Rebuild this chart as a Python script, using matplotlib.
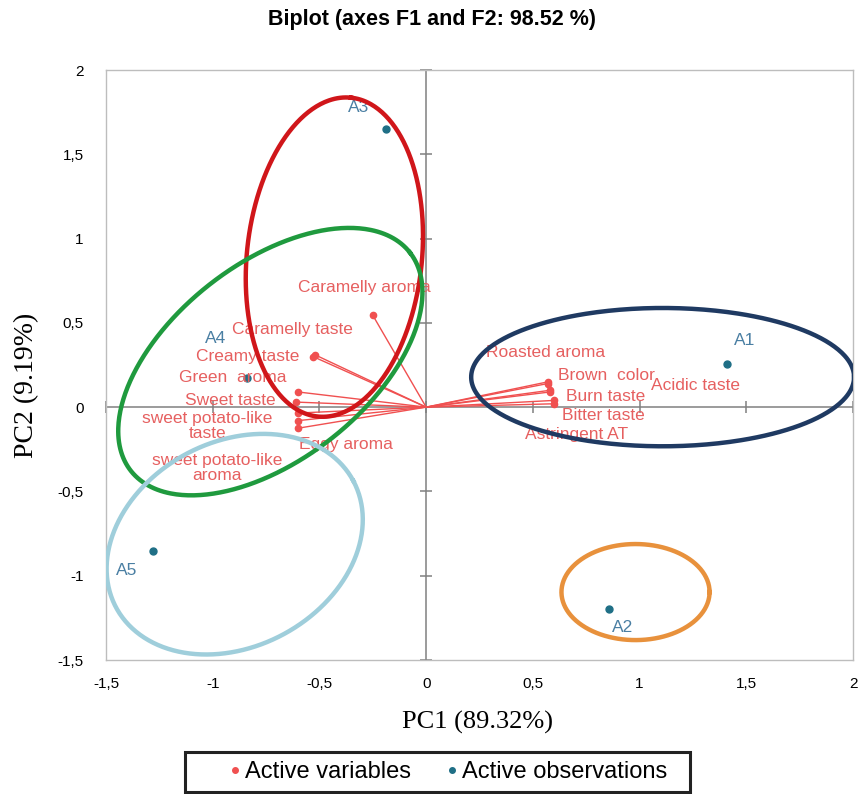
import matplotlib
matplotlib.use('Agg')
import matplotlib.pyplot as plt
from matplotlib.lines import Line2D
from matplotlib.patches import Rectangle
import numpy as np

# ---------------- data ----------------
var_names = ["Caramelly aroma", "Caramelly taste", "Creamy taste", "Green  aroma",
             "Sweet taste", "sweet potato-like\ntaste", "sweet potato-like\naroma",
             "Eggy aroma", "Roasted aroma", "Brown  color", "Acidic taste",
             "Burn taste", "Bitter taste", "Astringent AT"]
var_pc1 = [-0.25, -0.52, -0.53, -0.60, -0.61, -0.60, -0.60, -0.60,
           0.57, 0.57, 0.58, 0.58, 0.60, 0.60]
var_pc2 = [0.545, 0.31, 0.30, 0.09, 0.03, -0.035, -0.08, -0.125,
           0.15, 0.14, 0.10, 0.09, 0.04, 0.02]

obs_names = ["A1", "A2", "A3", "A4", "A5"]
obs_pc1 = [1.41, 0.855, -0.19, -0.84, -1.28]
obs_pc2 = [0.255, -1.20, 1.65, 0.17, -0.855]

x_ticks = [-1.5, -1, -0.5, 0, 0.5, 1, 1.5, 2]
y_ticks = [-1.5, -1, -0.5, 0, 0.5, 1, 1.5, 2]

# label placement (offset pixels, horizontal alignment)
var_label_pos = [(-8, 28, 'center'), (-23, 25, 'center'), (-14, 0, 'right'),
                 (-12, 14, 'right'), (-20, 2, 'right'), (-91, -13, 'center'),
                 (-81, -47, 'center'), (48, -16, 'center'), (-2, 29, 'center'),
                 (10, 8, 'left'), (101, 5, 'left'), (16, -5, 'left'),
                 (8, -15, 'left'), (22, -31, 'center')]
obs_label_pos = [(18, 24), (14, -18), (-27, 22), (-31, 40), (-26, -19)]

# group ellipses: centre (data), semi-axes (x units), angle (deg), colour
ellipses = [
    ((-0.43, 0.89), 0.751, 0.41, 84, '#d0161a'),
    ((-0.73, 0.27), 0.83, 0.46, 38, '#1f9a3e'),
    ((-0.897, -0.813), 0.63, 0.48, 28, '#9fcedb'),
    ((1.108, 0.178), 0.897, 0.324, 0, '#1f3a62'),
    ((0.981, -1.097), 0.347, 0.225, 0, '#e8913c'),
]

var_color = '#f05050'
var_text = '#e66060'
obs_color = '#1f6f86'
obs_text = '#4a7fa3'

W, H = 865, 794
fig = plt.figure(figsize=(W / 100, H / 100), dpi=100)
ax_l, ax_b, ax_w, ax_h = 106 / W, (H - 660) / H, (853 - 106) / W, (660 - 70) / H
ax = fig.add_axes([ax_l, ax_b, ax_w, ax_h])
ax.set_xlim(-1.5, 2)
ax.set_ylim(-1.5, 2)

for s in ax.spines.values():
    s.set_color('#bdbdbd')
    s.set_linewidth(1.0)

ax.set_xticks(x_ticks)
ax.set_yticks(y_ticks)
fmt = lambda v: ('%g' % v).replace('.', ',')
ax.set_xticklabels([fmt(v) for v in x_ticks], fontfamily='Liberation Sans', fontsize=11)
ax.set_yticklabels([fmt(v) for v in y_ticks], fontfamily='Liberation Sans', fontsize=11)
ax.tick_params(axis='y', length=0, pad=16)
ax.tick_params(axis='x', length=0, pad=12)

# central axes
ax.axhline(0, color='#808080', lw=1.1, zorder=1)
ax.axvline(0, color='#808080', lw=1.1, zorder=1)
ax.plot(np.zeros(len(y_ticks)), y_ticks, ls='none', marker='_', ms=8, color='#808080', mew=1.1, zorder=1, clip_on=False)
ax.plot(x_ticks, np.zeros(len(x_ticks)), ls='none', marker='|', ms=8, color='#808080', mew=1.1, zorder=1, clip_on=False)

# vectors
for x, y in zip(var_pc1, var_pc2):
    ax.plot([0, x], [0, y], color=var_color, lw=1.0, zorder=2)
ax.plot(var_pc1, var_pc2, ls='none', marker='o', ms=4.5, color=var_color, zorder=3)
for name, x, y, (dx, dy, ha) in zip(var_names, var_pc1, var_pc2, var_label_pos):
    ax.annotate(name, (x, y), xytext=(dx, dy), textcoords='offset pixels',
                ha=ha, va='center', color=var_text, fontsize=12.5,
                fontfamily='Liberation Sans', linespacing=1.0, zorder=4)

# observations
ax.plot(obs_pc1, obs_pc2, ls='none', marker='o', ms=5, color=obs_color, zorder=3)
for name, x, y, (dx, dy) in zip(obs_names, obs_pc1, obs_pc2, obs_label_pos):
    ax.annotate(name, (x, y), xytext=(dx, dy), textcoords='offset pixels',
                ha='center', va='center', color=obs_text, fontsize=12.5,
                fontfamily='Liberation Sans', zorder=4)

# ellipses (drawn in screen-proportional space)
r = (ax_h * H / 3.5) / (ax_w * W / 3.5)
t = np.linspace(0, 2 * np.pi, 400)
for (cx, cy), a, b, ang, col in ellipses:
    th = np.deg2rad(ang)
    u = a * np.cos(t)
    v = b * np.sin(t)
    xu = u * np.cos(th) - v * np.sin(th)
    yv = u * np.sin(th) + v * np.cos(th)
    ax.plot(cx + xu, cy + yv / r, color=col, lw=3.2, zorder=5)

fig.text(478 / W, 1 - 722 / H, 'PC1 (89.32%)', ha='center', va='center',
         fontfamily='Liberation Serif', fontsize=19)
fig.text(27 / W, 1 - 385 / H, 'PC2 (9.19%)', ha='center', va='center', rotation=90,
         fontfamily='Liberation Serif', fontsize=20)

fig.text(432 / W, 1 - 20 / H, 'Biplot (axes F1 and F2: 98.52 %)', ha='center', va='center',
         fontfamily='Liberation Sans', fontweight='bold', fontsize=15.5)

# legend box
fig.patches.append(Rectangle((185 / W, 1 - 792 / H), 505 / W, 40 / H,
                             transform=fig.transFigure, fill=False,
                             edgecolor='#222222', lw=2.2))
handles = [Line2D([], [], ls='none', marker='o', ms=4, color=var_color),
           Line2D([], [], ls='none', marker='o', ms=4, color=obs_color)]
fig.legend(handles, ['Active variables', 'Active observations'], ncol=2,
           loc='center', bbox_to_anchor=(447 / W, 1 - 772 / H),
           prop={'family': 'Liberation Sans', 'size': 17}, frameon=False,
           handletextpad=0.05, columnspacing=1.4, handlelength=0.7, borderpad=0.2)

fig.savefig('out.png', dpi=100)
